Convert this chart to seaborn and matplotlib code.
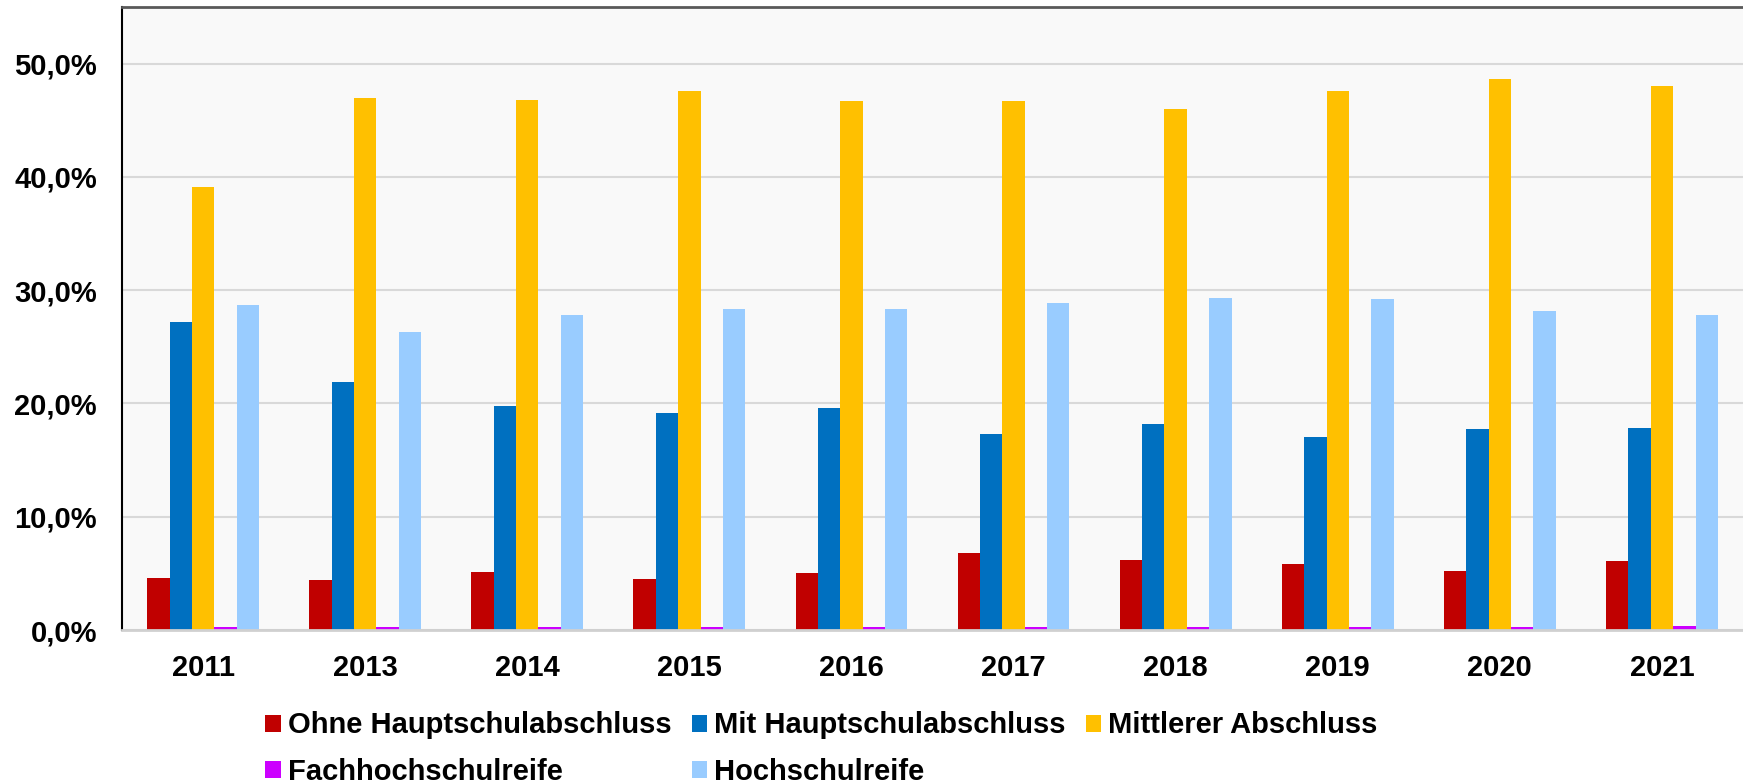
import pandas as pd
import matplotlib
matplotlib.use("Agg")
import matplotlib.pyplot as plt
import seaborn as sns

years = ["2011", "2013", "2014", "2015", "2016", "2017", "2018", "2019", "2020", "2021"]
series = ["Ohne Hauptschulabschluss", "Mit Hauptschulabschluss", "Mittlerer Abschluss",
          "Fachhochschulreife", "Hochschulreife"]
colors = ["#C00000", "#0070C0", "#FFC000", "#CC00FF", "#99CCFF"]

ohne = [4.6, 4.4, 5.1, 4.5, 5.0, 6.8, 6.2, 5.8, 5.2, 6.1]
mit = [27.2, 21.9, 19.8, 19.2, 19.6, 17.3, 18.2, 17.0, 17.7, 17.8]
mittlerer = [39.1, 47.0, 46.8, 47.6, 46.7, 46.7, 46.0, 47.6, 48.6, 48.0]
fach = [0.25, 0.25, 0.3, 0.25, 0.25, 0.25, 0.25, 0.25, 0.25, 0.35]
hoch = [28.7, 26.3, 27.8, 28.3, 28.3, 28.9, 29.3, 29.2, 28.2, 27.8]


def main():
    values = [ohne, mit, mittlerer, fach, hoch]
    rows = []
    for name, vals in zip(series, values):
        for year, v in zip(years, vals):
            rows.append({"Jahr": year, "Abschluss": name, "Anteil": v})
    data = pd.DataFrame(rows)

    sns.set_theme(style="white")
    plt.rcParams["font.family"] = ["Liberation Sans", "DejaVu Sans"]
    plt.rcParams["font.weight"] = "bold"
    plt.rcParams["text.color"] = "black"

    fig = plt.figure(figsize=(17.43, 7.83), dpi=100)
    ax = fig.add_axes([0.070, 0.1954, 0.930, 0.7957])
    ax.set_facecolor("#F9F9F9")

    sns.barplot(data=data, x="Jahr", y="Anteil", hue="Abschluss", order=years,
                hue_order=series, palette=colors, width=0.69, saturation=1,
                linewidth=0, legend=True, ax=ax)

    ax.set_ylim(0, 55)
    ax.set_xlim(-0.5, 9.5)
    ticks = [0, 10, 20, 30, 40, 50]
    ax.set_yticks(ticks)
    ax.set_yticklabels([f"{t:.1f}%".replace(".", ",") for t in ticks])
    ax.yaxis.grid(True, color="#D9D9D9", linewidth=1.5)
    ax.set_axisbelow(True)
    ax.set_xlabel("")
    ax.set_ylabel("")
    ax.tick_params(axis="both", length=0, labelsize=21, colors="black")
    ax.tick_params(axis="y", pad=18)
    ax.tick_params(axis="x", pad=17)
    for lab in ax.get_xticklabels() + ax.get_yticklabels():
        lab.set_fontweight("bold")

    ax.spines["top"].set_color("#595959")
    ax.spines["top"].set_linewidth(2)
    ax.spines["left"].set_color("black")
    ax.spines["left"].set_linewidth(1.5)
    ax.spines["bottom"].set_color("#D0D0D0")
    ax.spines["bottom"].set_linewidth(2)
    ax.spines["right"].set_visible(False)

    handles, labels = ax.get_legend_handles_labels()
    ax.get_legend().remove()
    order = [0, 3, 1, 4, 2]
    fig.legend([handles[i] for i in order], [labels[i] for i in order],
               ncol=3, loc="upper left", bbox_to_anchor=(0.1523, 0.0914),
               frameon=False, prop={"size": 21, "weight": "bold"}, labelcolor="black",
               handlelength=0.52, handleheight=0.52, handletextpad=0.24,
               columnspacing=0.7, labelspacing=0.62, borderpad=0, borderaxespad=0)

    fig.savefig("out.png", dpi=100)


if __name__ == "__main__":
    main()
